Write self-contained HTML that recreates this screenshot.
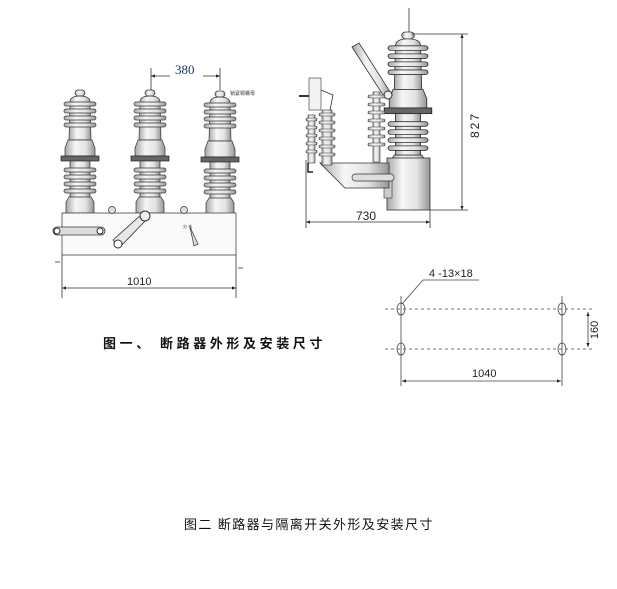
<!DOCTYPE html>
<html><head><meta charset="utf-8"><style>
html,body{margin:0;padding:0;background:#fff;}
body{width:617px;height:589px;overflow:hidden;position:relative;}
svg{position:absolute;left:0;top:0;}
.cap{position:absolute;font-family:"Liberation Sans","Noto Sans CJK SC",sans-serif;color:#111;white-space:nowrap;}
</style></head><body>
<svg width="617" height="589" viewBox="0 0 617 589" xmlns="http://www.w3.org/2000/svg" font-family="Liberation Sans, sans-serif">
<defs>
<linearGradient id="g" x1="0" x2="1" y1="0" y2="0">
<stop offset="0" stop-color="#a8a8a8"/><stop offset="0.35" stop-color="#f6f6f6"/><stop offset="0.7" stop-color="#e2e2e2"/><stop offset="1" stop-color="#959595"/>
</linearGradient>
<g id="ins">
<rect x="-5" y="0" width="10" height="6" rx="3" fill="url(#g)" stroke="#333" stroke-width="0.7"/>
<path d="M-10 12 Q-10 6 0 6 Q10 6 10 12 L11 50 L-11 50 Z" fill="url(#g)" stroke="#333" stroke-width="0.7"/>
<rect x="-16" y="12" width="32" height="4" rx="2" fill="url(#g)" stroke="#333" stroke-width="0.7"/>
<rect x="-16" y="19" width="32" height="4" rx="2" fill="url(#g)" stroke="#333" stroke-width="0.7"/>
<rect x="-16" y="26" width="32" height="4" rx="2" fill="url(#g)" stroke="#333" stroke-width="0.7"/>
<rect x="-16" y="33" width="32" height="4" rx="2" fill="url(#g)" stroke="#333" stroke-width="0.7"/>
<path d="M-12 50 L-15 58 L-15 66 L15 66 L15 58 L12 50 Z" fill="url(#g)" stroke="#333" stroke-width="0.7"/>
<rect x="-19" y="66" width="38" height="5" fill="#666" stroke="#222" stroke-width="0.7"/>
<rect x="-10" y="71" width="20" height="40" fill="url(#g)" stroke="#333" stroke-width="0.7"/>
<rect x="-16" y="78" width="32" height="4" rx="2" fill="url(#g)" stroke="#333" stroke-width="0.7"/>
<rect x="-16" y="85" width="32" height="4" rx="2" fill="url(#g)" stroke="#333" stroke-width="0.7"/>
<rect x="-16" y="92" width="32" height="4" rx="2" fill="url(#g)" stroke="#333" stroke-width="0.7"/>
<rect x="-16" y="99" width="32" height="4" rx="2" fill="url(#g)" stroke="#333" stroke-width="0.7"/>
<path d="M-11 107 L-14 112 L-14 123 L14 123 L14 112 L11 107 Z" fill="url(#g)" stroke="#333" stroke-width="0.7"/>
</g>
<marker id="ar" viewBox="0 0 10 10" refX="10" refY="5" markerWidth="7" markerHeight="5" orient="auto-start-reverse"><path d="M0 1 L10 5 L0 9 Z" fill="#222"/></marker>
</defs>

<!-- Figure 1 -->
<g stroke="#333" fill="none" stroke-width="0.8">
<line x1="151" y1="68" x2="151" y2="90"/>
<line x1="220" y1="68" x2="220" y2="90"/>
<line x1="151" y1="76" x2="170" y2="76" marker-start="url(#ar)"/>
<line x1="203" y1="76" x2="220" y2="76" marker-end="url(#ar)"/>
</g>
<text x="175" y="74" font-family="Liberation Serif, serif" font-size="13" fill="#1a3a7a">380</text>
<text x="230" y="95" font-family="Noto Sans CJK SC, sans-serif" font-size="5" fill="#333">锁紧铜螺母</text>
<use href="#ins" x="80" y="90"/>
<use href="#ins" x="150" y="90"/>
<use href="#ins" x="220" y="91"/>
<rect x="62" y="213" width="174" height="42" fill="#fafafa" stroke="#444" stroke-width="0.8"/>
<circle cx="112" cy="210" r="3.5" fill="#ddd" stroke="#333" stroke-width="0.7"/>
<circle cx="184" cy="210" r="3.5" fill="#ddd" stroke="#333" stroke-width="0.7"/>
<rect x="53" y="227" width="52" height="8" rx="4" fill="#ddd" stroke="#333" stroke-width="0.8"/>
<circle cx="57" cy="231" r="3" fill="#fff" stroke="#333"/><circle cx="100" cy="231" r="3" fill="#fff" stroke="#333"/>
<path d="M113 240 L142 214 L147 219 L120 247 Z" fill="#e8e8e8" stroke="#333" stroke-width="0.8"/>
<circle cx="118" cy="244" r="4" fill="#fff" stroke="#333"/>
<circle cx="145" cy="216" r="5" fill="#eee" stroke="#333"/>
<path d="M190 227 L198 244 L194 246 Z" fill="#ddd" stroke="#333" stroke-width="0.7"/>
<text x="183" y="228" font-size="4" fill="#333">分 合</text>
<g stroke="#333" stroke-width="0.8">
<line x1="62" y1="255" x2="62" y2="298"/>
<line x1="236" y1="255" x2="236" y2="298"/>
<line x1="55" y1="262" x2="60" y2="262"/><line x1="238" y1="268" x2="243" y2="268"/>
<line x1="62" y1="288" x2="236" y2="288" marker-start="url(#ar)" marker-end="url(#ar)"/>
</g>
<text x="127" y="285" font-size="11" fill="#222">1010</text>

<!-- Figure right -->
<line x1="409" y1="8" x2="409" y2="34" stroke="#333" stroke-width="0.8"/>
<g transform="translate(408,32) scale(1.25,1.15)"><use href="#ins"/></g>
<rect x="387" y="158" width="43" height="52" fill="url(#g)" stroke="#333" stroke-width="0.8"/>
<rect x="384" y="180" width="8" height="18" fill="#ccc" stroke="#333" stroke-width="0.6"/>
<path d="M320 163 L389 163 L389 188 L345 188 Z" fill="url(#g)" stroke="#333" stroke-width="0.8"/>
<rect x="352" y="174" width="42" height="7" rx="3.5" fill="#ddd" stroke="#333" stroke-width="0.7"/>
<path d="M352 47 L359 43 L392 95 L385 98 Z" fill="url(#g)" stroke="#333" stroke-width="0.8"/>
<circle cx="388" cy="95" r="4" fill="#eee" stroke="#333"/>
<g fill="url(#g)" stroke="#333" stroke-width="0.6">
<rect x="373" y="92" width="7" height="70"/>
<rect x="368" y="95" width="17" height="3" rx="1.5"/><rect x="368" y="103" width="17" height="3" rx="1.5"/><rect x="368" y="111" width="17" height="3" rx="1.5"/><rect x="368" y="119" width="17" height="3" rx="1.5"/><rect x="368" y="127" width="17" height="3" rx="1.5"/><rect x="368" y="135" width="17" height="3" rx="1.5"/><rect x="368" y="143" width="17" height="3" rx="1.5"/>
<rect x="322" y="110" width="10" height="55"/>
<rect x="319" y="113" width="16" height="3" rx="1.5"/><rect x="319" y="121" width="16" height="3" rx="1.5"/><rect x="319" y="129" width="16" height="3" rx="1.5"/><rect x="319" y="137" width="16" height="3" rx="1.5"/><rect x="319" y="145" width="16" height="3" rx="1.5"/><rect x="319" y="153" width="16" height="3" rx="1.5"/>
<rect x="308" y="115" width="7" height="48"/>
<rect x="306" y="118" width="11" height="3" rx="1.5"/><rect x="306" y="126" width="11" height="3" rx="1.5"/><rect x="306" y="134" width="11" height="3" rx="1.5"/><rect x="306" y="142" width="11" height="3" rx="1.5"/><rect x="306" y="150" width="11" height="3" rx="1.5"/>
<rect x="309" y="78" width="12" height="32" fill="#f2f2f2"/>
</g>
<path d="M321 90 L333 95 L330 110" fill="none" stroke="#333" stroke-width="0.8"/>
<line x1="299" y1="96" x2="309" y2="96" stroke="#333" stroke-width="2"/>
<path d="M308 163 L308 172 L313 172" fill="none" stroke="#222" stroke-width="1.5"/>
<g stroke="#333" stroke-width="0.8">
<line x1="306" y1="160" x2="306" y2="228"/>
<line x1="430" y1="210" x2="430" y2="228"/>
<line x1="306" y1="222" x2="430" y2="222" marker-start="url(#ar)" marker-end="url(#ar)"/>
<line x1="412" y1="34" x2="468" y2="34"/>
<line x1="430" y1="210" x2="468" y2="210"/>
<line x1="462" y1="34" x2="462" y2="210" marker-start="url(#ar)" marker-end="url(#ar)"/>
</g>
<text x="356" y="220" font-size="12" fill="#222">730</text>
<text transform="translate(479,125) rotate(-90)" font-size="12" fill="#222" text-anchor="middle" letter-spacing="2">827</text>

<!-- Holes -->
<g stroke="#444" stroke-width="0.8" fill="none">
<line x1="385" y1="309" x2="594" y2="309" stroke-dasharray="3,3"/>
<line x1="385" y1="349" x2="594" y2="349" stroke-dasharray="3,3"/>
<line x1="401" y1="296" x2="401" y2="386"/>
<line x1="562" y1="296" x2="562" y2="386"/>
<ellipse cx="401" cy="309" rx="4" ry="6"/><ellipse cx="401" cy="349" rx="4" ry="6"/>
<ellipse cx="562" cy="309" rx="4" ry="6"/><ellipse cx="562" cy="349" rx="4" ry="6"/>
<polyline points="402,304 423,280 479,280"/>
<line x1="588" y1="312" x2="588" y2="347" marker-start="url(#ar)" marker-end="url(#ar)"/>
<line x1="402" y1="381" x2="561" y2="381" marker-start="url(#ar)" marker-end="url(#ar)"/>
</g>
<text x="429" y="277" font-size="11" fill="#222">4 -13×18</text>
<text transform="translate(598,330) rotate(-90)" font-size="11" fill="#222" text-anchor="middle">160</text>
<text x="472" y="377" font-size="11" fill="#222">1040</text>
</svg>
<div class="cap" style="left:103px;top:333px;font-size:13px;font-weight:bold;letter-spacing:3.6px;">图一、 断路器外形及安装尺寸</div>
<div class="cap" style="left:184px;top:514px;font-size:13px;letter-spacing:1.4px;">图二 断路器与隔离开关外形及安装尺寸</div>
</body></html>
